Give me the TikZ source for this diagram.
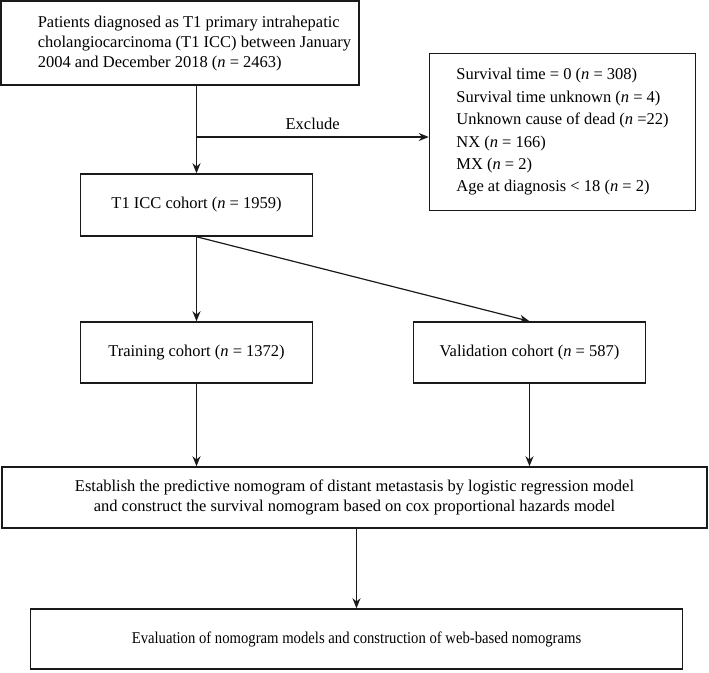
\documentclass[tikz,border=0pt]{standalone}
\usepackage{fontspec}
\usepackage{graphicx}
\setmainfont{Liberation Serif}
\usetikzlibrary{arrows.meta}
\definecolor{line1}{HTML}{1a1a1a}

\begin{document}
\begin{tikzpicture}[x=1pt, y=-1pt, font=\fontsize{16.5}{20}\selectfont,
  box/.style={draw=line1, line width=1.5pt, inner sep=0pt, align=center},
  arr/.style={draw=line1, line width=1.2pt, -{Stealth[length=10pt, width=8pt]}}]
\useasboundingbox (0,0) rectangle (709,672);
\node[box, minimum width=358, minimum height=84] (all) at (180,43)
  {\hspace*{29pt}\begin{tabular}{@{}l@{}}Patients diagnosed as T1 primary intrahepatic\\
  cholangiocarcinoma (T1 ICC) between January\\
  2004 and December 2018 (\textit{n} = 2463)\end{tabular}};
\node[box, minimum width=266, minimum height=157, align=left,
  font=\fontsize{16.5}{22.4}\selectfont] (excl) at (562.5,132)
  {Survival time = 0 (\textit{n} = 308)\\
  Survival time unknown (\textit{n} = 4)\\
  Unknown cause of dead (\textit{n} =22)\\
  NX (\textit{n} = 166)\\
  MX (\textit{n} = 2)\\
  Age at diagnosis < 18 (\textit{n} = 2)};
\node[box, minimum width=232, minimum height=62] (cohort) at (196.5,205) {T1 ICC cohort (\textit{n} = 1959)};
\node[box, minimum width=232, minimum height=61] (train) at (196.5,352.5) {Training cohort (\textit{n} = 1372)};
\node[box, minimum width=232, minimum height=61] (valid) at (529.5,352.5) {Validation cohort (\textit{n} = 587)};
\node[box, minimum width=705, minimum height=61] (model) at (354.5,497.5)
  {Establish the predictive nomogram of distant metastasis by logistic regression model\\
  and construct the survival nomogram based on cox proportional hazards model};
\node[box, minimum width=652, minimum height=60] (eval) at (356.5,639)
  {\scalebox{0.89}[1]{Evaluation of nomogram models and construction of web-based nomograms}};

\draw[arr] (cohort.north |- all.south) -- (cohort.north);
\coordinate (cut) at (cohort.north |- 0,137);
\draw[arr] (cut) -- (cut -| excl.west) node[midway, above=3pt] {Exclude};
\draw[arr] (cohort.south) -- (train.north);
\draw[arr] (cohort.south) -- (valid.north);
\draw[arr] (train.south) -- (train.south |- model.north);
\draw[arr] (valid.south) -- (valid.south |- model.north);
\draw[arr] (eval.north |- model.south) -- (eval.north);
\end{tikzpicture}
\end{document}
